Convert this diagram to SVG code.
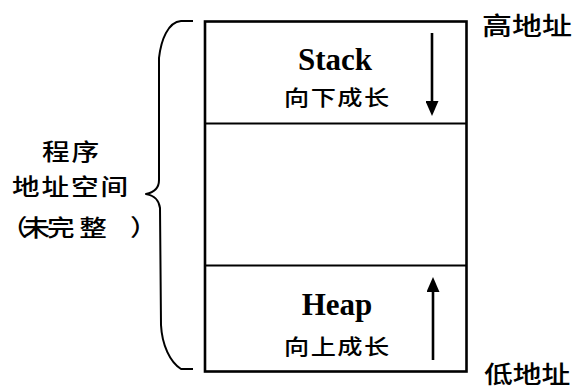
<svg xmlns="http://www.w3.org/2000/svg" width="574" height="390" viewBox="0 0 574 390">
  <style>
    .cjk { font-family: "Noto Sans CJK SC", "Noto Sans", sans-serif; font-weight: 500; fill: #000; }
    .latin { font-family: "Liberation Serif", "Times New Roman", serif; font-weight: bold; fill: #000; }
    .frame { fill: none; stroke: #000; stroke-width: 2.6; }
    .divider { fill: none; stroke: #000; stroke-width: 1.8; }
    .brace { fill: none; stroke: #000; stroke-width: 2; stroke-linejoin: round; }
    .flow { fill: none; stroke: #000; stroke-width: 2.6; }
  </style>
  <defs>
    <marker id="head" viewBox="0 0 15 13" markerWidth="15" markerHeight="13" refX="0" refY="6.5" orient="auto" markerUnits="userSpaceOnUse">
      <path d="M0,0 L15,6.5 L0,13 Z" fill="#000"/>
    </marker>
  </defs>

  <rect id="white-bg" x="0" y="0" width="574" height="390" fill="#fff"/>

  <!-- memory column frame -->
  <g id="memory-frame">
    <rect class="frame" x="205" y="21.5" width="261.5" height="350"/>
  </g>

  <!-- stack region (top) -->
  <g id="stack-region">
    <text class="latin" x="335" y="70" font-size="31" text-anchor="middle">Stack</text>
    <text class="cjk" transform="matrix(1.2 0 0 1 284 104.5)" font-size="21" letter-spacing="1.2">向下成长</text>
  </g>

  <!-- unused gap between stack and heap -->
  <g id="free-region">
    <line class="divider" x1="205" y1="123.5" x2="466.5" y2="123.5"/>
    <line class="divider" x1="205" y1="265.5" x2="466.5" y2="265.5"/>
  </g>

  <!-- heap region (bottom) -->
  <g id="heap-region">
    <text class="latin" x="337" y="315" font-size="31" text-anchor="middle">Heap</text>
    <text class="cjk" transform="matrix(1.2 0 0 1 284 353.5)" font-size="21" letter-spacing="1.2">向上成长</text>
  </g>

  <!-- growth direction arrows -->
  <g id="connectors">
    <line class="flow" x1="432" y1="33" x2="432" y2="101" marker-end="url(#head)"/>
    <line class="flow" x1="433" y1="360" x2="433" y2="292" marker-end="url(#head)"/>
  </g>

  <!-- curly brace spanning the whole address space -->
  <g id="address-brace">
    <path class="brace" d="M193,21 L181,21 C168,22 161,40 159,58 L159,180 C159,187 156,192 146,194 C156,196 159,201 160,208 L161,325 C162,345 170,362 181,369 L193,369"/>
  </g>

  <!-- label for the brace -->
  <g id="address-space-label">
    <text class="cjk" transform="matrix(1.2 0 0 1 42 160)" font-size="23" letter-spacing="1.6">程序</text>
    <text class="cjk" transform="matrix(1.2 0 0 1 12 195)" font-size="23" letter-spacing="1.6">地址空间</text>
    <text class="cjk" transform="matrix(1.2 0 0 1 0 236)" font-size="23" x="0 18.6 39.2 66 108.3">（未完整）</text>
  </g>

  <!-- address ends -->
  <g id="high-address">
    <text class="cjk" transform="matrix(1.2 0 0 1 482 35)" font-size="25">高地址</text>
  </g>
  <g id="low-address">
    <text class="cjk" transform="matrix(1.2 0 0 1 484 383)" font-size="24">低地址</text>
  </g>
</svg>
